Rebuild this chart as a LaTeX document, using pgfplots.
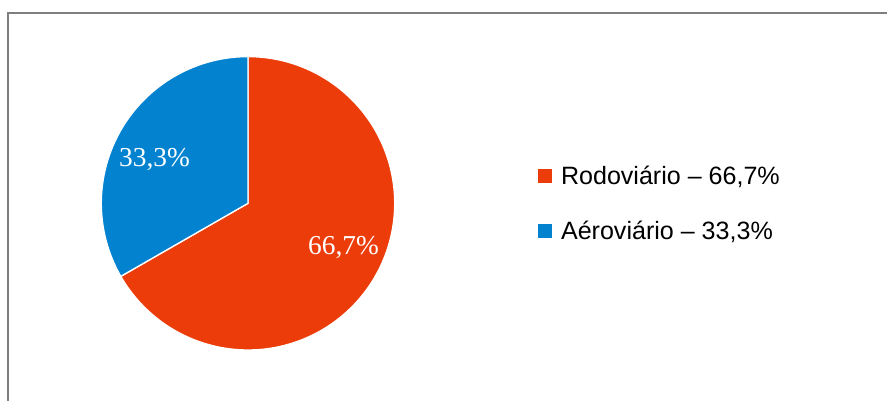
\documentclass[border=0pt]{standalone}
\usepackage{pgfplots}
\pgfplotsset{compat=1.18}
\usepackage{fontspec}
\setmainfont{Liberation Serif}
\newfontfamily\arial{Liberation Sans}
\definecolor{rodo}{HTML}{EC3C0A}
\definecolor{aero}{HTML}{0382D0}
\definecolor{frame}{HTML}{7F7F7F}
\begin{document}
\begin{tikzpicture}
\pgfmathsetmacro{\rodov}{66.7}
\pgfmathsetmacro{\aerov}{33.3}
\pgfmathsetmacro{\split}{90-3.6*\rodov}
\pgfmathsetmacro{\splitb}{\split+360}
\begin{axis}[width=665.25pt,height=300pt,scale only axis,
  xmin=0,xmax=887,ymin=0,ymax=400,hide axis,clip=true,
  legend style={draw=none,fill=none,
    font=\arial\fontsize{18.8}{20}\selectfont,
    at={(0.6005,0.4905)},anchor=west,
    row sep=22pt,
    nodes={inner xsep=5.5pt}},
  legend cell align=left,
  legend image code/.code={\fill[#1] (0pt,-5.8pt) rectangle (11.6pt,5.8pt);},
]
\draw[frame,line width=1.2pt] (axis cs:8,-10) -- (axis cs:8,387) -- (axis cs:900,387);
\addplot[fill=rodo,draw=white,line width=1pt,domain=\split:90,samples=150]
  ({248+146.7*cos(x)},{196.7+146.7*sin(x)}) -- (axis cs:248,196.7) -- cycle;
\addlegendentry{Rodoviário – 66,7\%}
\addplot[fill=aero,draw=white,line width=1pt,domain=90:\splitb,samples=80]
  ({248+146.7*cos(x)},{196.7+146.7*sin(x)}) -- (axis cs:248,196.7) -- cycle;
\addlegendentry{Aéroviário – 33,3\%}
\node[white,font=\fontsize{20.5}{20.5}\selectfont] at (axis cs:154.5,240) {33,3\%};
\node[white,font=\fontsize{20.5}{20.5}\selectfont] at (axis cs:343.5,152) {66,7\%};
\end{axis}
\pgfresetboundingbox
\useasboundingbox (current axis.south west) rectangle (current axis.north east);
\end{tikzpicture}
\end{document}
